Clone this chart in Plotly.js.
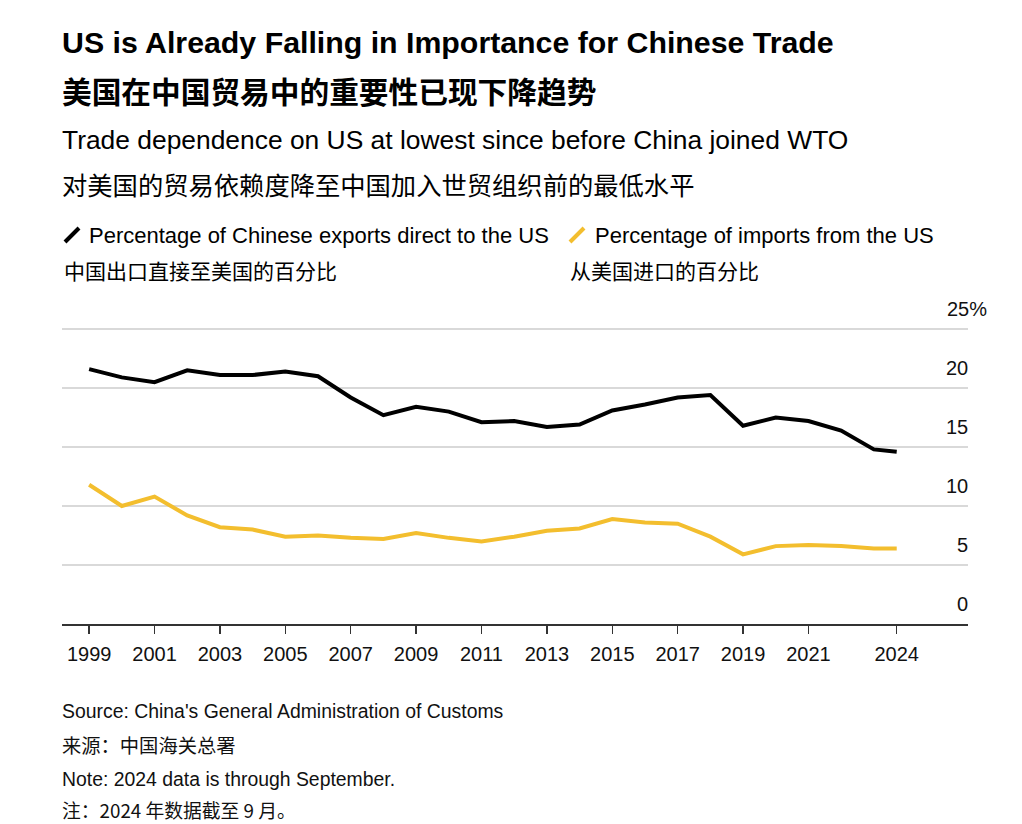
<!DOCTYPE html>
<html>
<head>
<meta charset="utf-8">
<script src="https://cdn.plot.ly/plotly-3.0.1.min.js"></script>
<style>
html,body{margin:0;padding:0;background:#fff;}
#chart{width:1022px;height:824px;}
</style>
</head>
<body>
<div id="chart"></div>
<script>
// ---- data ----
var years = [1999,2000,2001,2002,2003,2004,2005,2006,2007,2008,2009,2010,2011,2012,2013,2014,2015,2016,2017,2018,2019,2020,2021,2022,2023,2023.7];
var exportsToUS = [21.6,20.9,20.5,21.5,21.1,21.1,21.4,21.0,19.2,17.7,18.4,18.0,17.1,17.2,16.7,16.9,18.1,18.6,19.2,19.4,16.8,17.5,17.2,16.4,14.8,14.6];
var importsFromUS = [11.8,10.0,10.8,9.2,8.2,8.0,7.4,7.5,7.3,7.2,7.7,7.3,7.0,7.4,7.9,8.1,8.9,8.6,8.5,7.4,5.9,6.6,6.7,6.6,6.4,6.4];
var xTickVals = [1999,2001,2003,2005,2007,2009,2011,2013,2015,2017,2019,2021,2023.7];
var xTickText = ['1999','2001','2003','2005','2007','2009','2011','2013','2015','2017','2019','2021','2024'];
var yTicks = [0,5,10,15,20,25];
var yTickText = ['0','5','10','15','20','25%'];
var seriesNames = ['Percentage of Chinese exports direct to the US','Percentage of imports from the US'];
var seriesNamesCN = ['中国出口直接至美国的百分比','从美国进口的百分比'];
var colors = ['#000000','#F3BE2E'];

// ---- layout geometry ----
var W = 1022, H = 824;
var M = {l:62, r:54, t:325, b:200};
var pw = W - M.l - M.r, ph = H - M.t - M.b;
function px(x){ return (x - M.l)/pw; }
function py(y){ return (H - M.b - y)/ph; }

var FONT = 'Liberation Sans, Arial, Noto Sans CJK SC, sans-serif';
var CJK = 'Noto Sans CJK SC, sans-serif';

function txt(text, x, y, size, opts){
  opts = opts || {};
  return {text:text, xref:'paper', yref:'paper', x:px(x), y:py(y), xanchor:opts.xanchor||'left', yanchor:'middle',
    showarrow:false, borderpad:0, font:{family:opts.family||FONT, size:size, color:opts.color||'#000'}};
}

var annotations = [
  txt('<b>US is Already Falling in Importance for Chinese Trade</b>', 61, 42, 30.3),
  txt('<b>美国在中国贸易中的重要性已现下降趋势</b>', 61, 90, 29.7, {family:CJK}),
  txt('Trade dependence on US at lowest since before China joined WTO', 61, 140, 26.4),
  txt('对美国的贸易依赖度降至中国加入世贸组织前的最低水平', 61, 184, 25.3, {family:CJK}),
  txt(seriesNames[0], 88, 235, 22),
  txt(seriesNamesCN[0], 63, 270, 21, {family:CJK}),
  txt(seriesNames[1], 594, 235, 22),
  txt(seriesNamesCN[1], 569, 270, 21, {family:CJK}),
  txt("Source: China's General Administration of Customs", 61, 711, 19.4, {color:'#111'}),
  txt('来源：中国海关总署', 61, 745, 19.3, {family:CJK, color:'#111'}),
  txt('Note: 2024 data is through September.', 61, 779, 19.4, {color:'#111'}),
  txt('注：2024 年数据截至 9 月。', 61, 809, 18.8, {family:CJK, color:'#111'})
];
yTicks.forEach(function(v, i){
  var t = yTickText[i];
  var hasPct = t.indexOf('%') >= 0;
  annotations.push({text:t, xref:'paper', yref:'y', x:px(hasPct ? 988 : 969), y:v, yshift:20, xanchor:'right', yanchor:'middle',
    showarrow:false, borderpad:0, font:{family:FONT, size:20, color:'#111'}});
});

var shapes = [
  {type:'line', xref:'paper', yref:'paper', x0:px(65), y0:py(242), x1:px(79), y1:py(228), line:{color:colors[0], width:4}},
  {type:'line', xref:'paper', yref:'paper', x0:px(570), y0:py(242), x1:px(584), y1:py(228), line:{color:colors[1], width:4}}
];

var traces = [
  {x:years, y:importsFromUS, type:'scatter', mode:'lines', name:seriesNames[1], line:{color:colors[1], width:4}, hoverinfo:'skip'},
  {x:years, y:exportsToUS, type:'scatter', mode:'lines', name:seriesNames[0], line:{color:colors[0], width:4}, hoverinfo:'skip'}
];

var layout = {
  width:W, height:H, margin:M, paper_bgcolor:'#fff', plot_bgcolor:'#fff', showlegend:false,
  font:{family:FONT, color:'#111'},
  xaxis:{range:[1998.17,2025.88], tickvals:xTickVals, ticktext:xTickText, ticks:'outside', ticklen:8, tickwidth:1.5, tickcolor:'#333',
    ticklabelstandoff:3,
    showline:true, linecolor:'#333', linewidth:1.5, showgrid:false, zeroline:false, tickfont:{size:20, color:'#111'}, fixedrange:true},
  yaxis:{range:[0,25.34], tickvals:yTicks, showticklabels:false, showgrid:true, gridcolor:'#d9d9d9', gridwidth:1.5, zeroline:false, fixedrange:true},
  annotations:annotations, shapes:shapes
};
Plotly.newPlot('chart', traces, layout, {displayModeBar:false, staticPlot:true});
</script>
</body>
</html>
